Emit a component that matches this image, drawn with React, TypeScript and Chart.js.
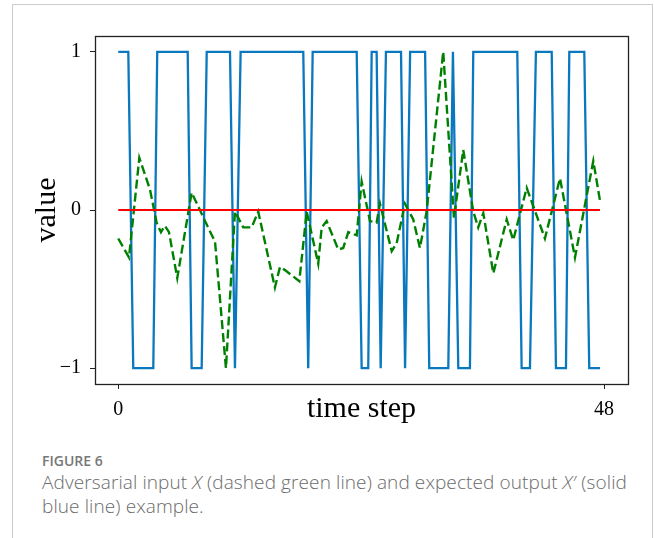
import React, { useEffect, useRef } from 'react';
import { Chart, registerables } from 'chart.js';

Chart.register(...registerables);

// Expected output X' (solid blue), corner points
const blueX = [0, 0.99, 1.48, 3.46, 3.85, 6.86, 7.25, 8.24, 8.74, 11.04, 11.53, 12.09, 18.28, 18.77, 19.21, 23.56, 24.05, 24.7, 25.04, 25.53, 25.93, 26.45, 27.94, 28.34, 28.84, 30.32, 30.73, 32.61, 33.07, 33.6, 34.75, 35.08, 39.43, 39.86, 40.68, 41.27, 42.83, 43.25, 44.24, 44.57, 46.05, 46.54, 47.6];
const blueY = [1, 1, -1, -1, 1, 1, -1, -1, 1, 1, -1, 1, 1, -1, 1, 1, -1, -1, 1, 1, -1, 1, 1, -1, 1, 1, -1, -1, 1, -1, -1, 1, 1, -1, -1, 1, 1, -1, -1, 1, 1, -1, -1];

// Adversarial input X (dashed green)
const greenX = [0, 1.06, 2.08, 3.13, 3.79, 4.22, 4.61, 5.01, 5.83, 7.25, 8.07, 8.57, 9.56, 10.64, 11.53, 12.35, 13.18, 13.83, 15.48, 15.98, 16.47, 17.29, 17.89, 18.62, 19.76, 20.1, 20.59, 21.74, 22.23, 22.73, 23.56, 24.05, 24.87, 25.53, 25.86, 27.02, 27.51, 28.33, 29.15, 29.81, 30.47, 32.11, 33.17, 34.09, 35.08, 35.57, 36.07, 37.06, 38.38, 39.03, 40.36, 42.16, 43.65, 45.13, 46.94, 47.6];
const greenY = [-0.18, -0.3, 0.33, 0.13, -0.08, -0.14, -0.1, -0.14, -0.43, 0.11, 0.0, -0.07, -0.2, -1.0, -0.01, -0.11, -0.11, -0.01, -0.49, -0.36, -0.38, -0.42, -0.45, -0.01, -0.34, -0.11, -0.07, -0.25, -0.24, -0.14, -0.16, 0.18, -0.07, -0.08, 0.04, -0.26, -0.21, 0.04, -0.06, -0.24, -0.01, 1.0, -0.05, 0.38, -0.01, -0.11, -0.02, -0.4, -0.06, -0.19, 0.14, -0.18, 0.2, -0.3, 0.31, 0.06];

// Zero reference line (red)
const refX = [0, 47.6];
const refY = [0, 0];

const xTicks = [0, 48];
const yTicks = [-1, 0, 1];
const yTickLabels = ['\u22121', '0', '1'];

const toPoints = (xs: number[], ys: number[]) => xs.map((x, i) => ({ x, y: ys[i] }));

const boxPlugin = {
  id: 'boxFrame',
  afterDraw(chart: any) {
    const { ctx, chartArea } = chart;
    const { left, top, right, bottom } = chartArea;
    ctx.save();
    ctx.strokeStyle = '#222';
    ctx.lineWidth = 1.3;
    ctx.strokeRect(Math.round(left) + 0.5, Math.round(top) + 0.5, Math.round(right - left), Math.round(bottom - top));
    ctx.restore();
  },
};

const serif = '"Liberation Serif", "Times New Roman", serif';

export default function App() {
  const ref = useRef<HTMLCanvasElement | null>(null);

  useEffect(() => {
    if (!ref.current) return;
    const chart = new Chart(ref.current, {
      type: 'line',
      data: {
        datasets: [
          {
            data: toPoints(refX, refY),
            borderColor: '#ff0000',
            borderWidth: 2,
            pointRadius: 0,
          },
          {
            data: toPoints(greenX, greenY),
            borderColor: '#008000',
            borderWidth: 2.4,
            borderDash: [9, 4],
            pointRadius: 0,
          },
          {
            data: toPoints(blueX, blueY),
            borderColor: '#0a78be',
            borderWidth: 2.3,
            pointRadius: 0,
          },
        ],
      },
      options: {
        animation: false,
        responsive: false,
        devicePixelRatio: 1,
        layout: { padding: { left: 0, right: 26, top: 36, bottom: 0 } },
        plugins: { legend: { display: false }, tooltip: { enabled: false } },
        elements: { line: { tension: 0 } },
        scales: {
          x: {
            type: 'linear',
            min: -2.3,
            max: 50.37,
            afterBuildTicks: (s: any) => {
              s.ticks = xTicks.map((v) => ({ value: v }));
            },
            afterFit: (s: any) => {
              s.height = 56;
            },
            grid: { drawOnChartArea: false, drawTicks: true, tickLength: 5, color: '#222' },
            border: { display: false },
            ticks: {
              color: '#000',
              font: { family: serif, size: 20 },
              padding: 9,
              maxRotation: 0,
              autoSkip: false,
              callback: (v: any) => String(v),
            },
            title: {
              display: true,
              text: 'time step',
              color: '#000',
              font: { family: serif, size: 30 },
              padding: { top: 0, bottom: 13 },
            },
          },
          y: {
            type: 'linear',
            min: -1.1,
            max: 1.1,
            afterBuildTicks: (s: any) => {
              s.ticks = yTicks.map((v) => ({ value: v }));
            },
            afterFit: (s: any) => {
              s.width = 95;
            },
            grid: { drawOnChartArea: false, drawTicks: true, tickLength: 5, color: '#222' },
            border: { display: false },
            ticks: {
              color: '#000',
              font: { family: serif, size: 20 },
              padding: 9,
              autoSkip: false,
              callback: (v: any) => {
                const i = yTicks.indexOf(Number(v));
                return i >= 0 ? yTickLabels[i] : '';
              },
            },
            title: {
              display: true,
              text: 'value',
              color: '#000',
              font: { family: serif, size: 30 },
              padding: { top: 29, bottom: 0 },
            },
          },
        },
      },
      plugins: [boxPlugin],
    } as any);
    return () => chart.destroy();
  }, []);

  return (
    <div>
      <div
        style={{
          position: 'absolute',
          left: 12,
          top: 4,
          width: 641,
          height: 620,
          border: '1px solid #cccccc',
          boxSizing: 'border-box',
        }}
      />
      <canvas
        ref={ref}
        width={654}
        height={440}
        style={{ position: 'absolute', left: 0, top: 0, width: 654, height: 440 }}
      />
      <div
        style={{
          position: 'absolute',
          left: 42,
          top: 452,
          width: 596,
          fontFamily: '"Open Sans", "Noto Sans", sans-serif',
          color: '#6b6b6b',
        }}
      >
        <div style={{ fontSize: 14, fontWeight: 600, color: '#777', lineHeight: '18px' }}>FIGURE 6</div>
        <div style={{ fontSize: 19, lineHeight: '24px', fontWeight: 300, letterSpacing: '0.1px' }}>
          Adversarial input <i>X</i> (dashed green line) and expected output <i>X′</i> (solid blue line) example.
        </div>
      </div>
    </div>
  );
}
